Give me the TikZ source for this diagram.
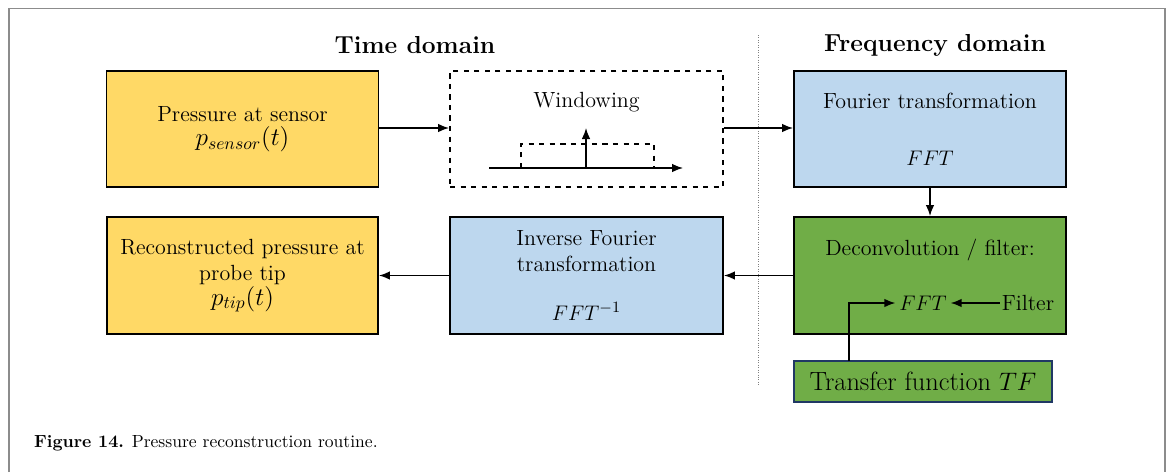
\documentclass[tikz,border=0pt]{standalone}
\usepackage{xcolor}
\usepackage{tikz}
\usetikzlibrary{positioning,arrows.meta}
\definecolor{boxyellow}{HTML}{FFD966}
\definecolor{boxblue}{HTML}{BDD7EE}
\definecolor{boxgreen}{HTML}{70AD47}
\definecolor{tfborder}{HTML}{203864}

\begin{document}
\begin{tikzpicture}[>={Latex[length=2.2mm,width=1.7mm]},
                    block/.style = {rectangle, draw, line width=1pt, minimum width=5.44cm, minimum height=2.32cm, align=center, inner sep=0pt, font=\fontsize{12.5}{15}\selectfont},
                    head/.style = {font=\bfseries\fontsize{14}{16}\selectfont},
                    flow/.style = {->, line width=0.9pt}]
	\useasboundingbox (0,0) rectangle (23.42,-9.44);
	\draw[black!45, line width=1pt] (0.18,-9.44) -- (0.18,-0.17) -- (23.3,-0.17) -- (23.3,-9.44);

	\node[head] (timehead) at (8.3,-0.9) {Time domain};
	\node[head] (freqhead) at (18.7,-0.9) {Frequency domain};
	\draw[black!50, densely dotted] (15.16,-0.7) -- (15.16,-7.7);

	\node[block, fill=boxyellow] (sensor) at (4.85,-2.58) {Pressure at sensor\\[-1pt] {\Large $p_{sensor}(t)$}};
	\node[block, dashed, minimum width=5.46cm] (window) at (11.73,-2.58) {};
	\node[block, fill=boxblue] (fourier) at (18.6,-2.58) {Fourier transformation\\[0.62cm] $FFT$};
	\node[block, fill=boxgreen, minimum height=2.34cm] (deconv) at (18.6,-5.51) {};
	\node[block, fill=boxblue, minimum width=5.46cm, minimum height=2.34cm] (inverse) at (11.73,-5.51) {Inverse Fourier\\ transformation\\[0.45cm] $FFT^{-1}$};
	\node[block, fill=boxyellow, minimum width=5.42cm, minimum height=2.34cm] (tip) at (4.85,-5.51) {Reconstructed pressure at\\ probe tip\\[-1pt] {\Large $p_{tip}(t)$}};
	\node[block, fill=boxgreen, draw=tfborder, line width=0.8pt, minimum width=5.16cm, minimum height=0.82cm, font=\fontsize{15}{18}\selectfont] (tf) at (18.46,-7.63) {Transfer function $TF$};

	\node[font=\fontsize{12.5}{15}\selectfont] (wlabel) at (11.73,-2.04) {Windowing};
	\node[font=\fontsize{12.5}{15}\selectfont] (declabel) at (18.6,-5.0) {Deconvolution / filter:};
	\node[font=\fontsize{12.5}{15}\selectfont, inner sep=2pt] (fftin) at (18.46,-6.06) {$FFT$};
	\node[font=\fontsize{12.5}{15}\selectfont, inner sep=1pt] (filter) at (20.56,-6.06) {Filter};

	\coordinate (axl) at (9.78,-3.36);
	\coordinate (axr) at (13.66,-3.36);
	\coordinate (peak) at (11.72,-2.56);
	\draw[->, line width=0.7pt] (axl) -- (axr);
	\draw[dashed, line width=0.6pt] (10.42,-3.36) rectangle (13.08,-2.88);
	\draw[->, line width=0.7pt] (peak |- axl) -- (peak);

	\draw[flow] (sensor.east |- 0,-2.56) to (window.west |- 0,-2.56);
	\draw[flow] (window.east |- 0,-2.56) to (fourier.west |- 0,-2.56);
	\draw[flow] (fourier.south) to (deconv.north);
	\draw[flow] (deconv.west) to (inverse.east);
	\draw[flow] (inverse.west) to (tip.east);
	\coordinate (tfup) at (16.98,-7.22);
	\draw[flow] (tfup) |- (fftin.west);
	\draw[flow] (filter.west) to (fftin.east);

	\node[anchor=west, font=\fontsize{10}{12}\selectfont] (caption) at (0.56,-8.86) {\textbf{Figure 14.} Pressure reconstruction routine.};
\end{tikzpicture}
\end{document}
